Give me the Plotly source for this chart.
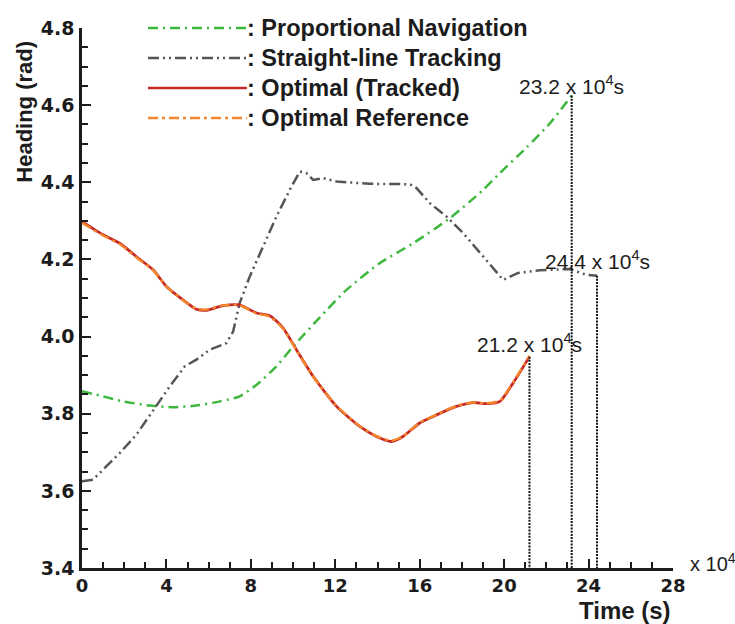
import plotly.graph_objects as go

# ---- data (time in units of 10^4 s, heading in rad) ----
pn_t = [0, 1.0, 1.94, 3.21, 4.31, 5.42, 6.53, 7.47, 8.27, 9.21, 10.0, 11.27, 12.53, 14.1, 15.69, 17.43, 19.0, 19.8, 21.06, 22.17, 23.2]
pn_h = [3.858, 3.845, 3.832, 3.821, 3.817, 3.821, 3.832, 3.845, 3.875, 3.923, 3.974, 4.05, 4.121, 4.19, 4.242, 4.307, 4.38, 4.424, 4.49, 4.553, 4.625]

sl_t = [0, 0.52, 1.0, 1.79, 2.58, 3.37, 4.16, 4.87, 5.42, 6.05, 6.84, 7.16, 7.47, 7.95, 8.58, 9.21, 9.84, 10.32, 10.63, 10.95, 11.42, 12.06, 13.64, 15.53, 15.85, 16.48, 17.27, 18.06, 19.0, 19.95, 20.66, 21.7, 23.11, 23.9, 24.4]
sl_h = [3.625, 3.629, 3.655, 3.698, 3.746, 3.81, 3.871, 3.923, 3.94, 3.966, 3.983, 4.013, 4.087, 4.156, 4.233, 4.311, 4.38, 4.428, 4.424, 4.406, 4.411, 4.402, 4.396, 4.395, 4.385, 4.346, 4.311, 4.268, 4.208, 4.147, 4.165, 4.172, 4.175, 4.16, 4.158]

opt_t = [0, 1.0, 1.79, 2.58, 3.37, 4.0, 4.79, 5.42, 5.9, 6.68, 7.47, 8.27, 8.9, 9.53, 10.16, 10.95, 12.06, 13.16, 13.95, 14.66, 15.21, 16.0, 16.8, 17.74, 18.53, 19.17, 19.8, 20.43, 21.2]
opt_h = [4.298, 4.264, 4.242, 4.207, 4.173, 4.13, 4.095, 4.071, 4.068, 4.08, 4.082, 4.061, 4.054, 4.022, 3.966, 3.897, 3.819, 3.767, 3.741, 3.728, 3.741, 3.776, 3.797, 3.819, 3.829, 3.826, 3.832, 3.88, 3.948]

ref_t = [0, 1.0, 1.79, 2.58, 3.37, 4.0, 4.79, 5.42, 5.9, 6.68, 7.47, 8.27, 8.9, 9.53, 10.16, 10.95, 12.06, 13.16, 13.95, 14.66, 15.21, 16.0, 16.8, 17.74, 18.53, 19.17, 19.8, 20.43, 21.2]
ref_h = [4.295, 4.262, 4.24, 4.205, 4.172, 4.13, 4.094, 4.072, 4.07, 4.081, 4.081, 4.06, 4.052, 4.02, 3.965, 3.896, 3.82, 3.768, 3.742, 3.73, 3.742, 3.777, 3.798, 3.82, 3.829, 3.827, 3.834, 3.882, 3.95]

end_times = [21.2, 23.2, 24.4]
end_values = [3.948, 4.625, 4.158]
end_labels = ["21.2 x 10<sup>4</sup>s", "23.2 x 10<sup>4</sup>s", "24.4 x 10<sup>4</sup>s"]
label_y = [3.984, 4.652, 4.199]

legend_names = [": Proportional Navigation", ": Straight-line Tracking", ": Optimal (Tracked)", ": Optimal Reference"]

GREEN = "#3db83d"
GRAY = "#555555"
RED = "#c62a26"
ORANGE = "#f5862c"
PN_DASH = "10px,5px,2px,5px"
SL_DASH = "11px,4px,2px,4px,2px,4px"
REF_DASH = "10px,4px,3px,4px"

FONT = "Arial, 'Liberation Sans', sans-serif"
WIDE = "'DejaVu Sans', Arial, sans-serif"
INK = "#1c1c1c"

fig = go.Figure()
fig.add_trace(go.Scatter(x=pn_t, y=pn_h, mode="lines", line=dict(color=GREEN, width=2.5, dash=PN_DASH, shape="spline", smoothing=0.6)))
fig.add_trace(go.Scatter(x=sl_t, y=sl_h, mode="lines", line=dict(color=GRAY, width=2.5, dash=SL_DASH)))
fig.add_trace(go.Scatter(x=opt_t, y=opt_h, mode="lines", line=dict(color=RED, width=2.8, shape="spline", smoothing=0.6)))
fig.add_trace(go.Scatter(x=ref_t, y=ref_h, mode="lines", line=dict(color=ORANGE, width=2.4, dash=REF_DASH, shape="spline", smoothing=0.6)))

for t, v in zip(end_times, end_values):
    fig.add_trace(go.Scatter(x=[t, t], y=[v, 3.4], mode="lines", line=dict(color="#111111", width=2, dash="2px,1.2px")))

for t, ly, txt in zip(end_times, label_y, end_labels):
    fig.add_annotation(x=t, y=ly, text=txt, showarrow=False, xanchor="center", yanchor="middle",
                       font=dict(family=FONT, size=21, color=INK))

# custom legend (line samples + labels)
leg_colors = [GREEN, GRAY, RED, ORANGE]
leg_dashes = [PN_DASH, SL_DASH, "solid", REF_DASH]
leg_y = [1.0, 0.9444, 0.8889, 0.8333]
for c, d, yy, name in zip(leg_colors, leg_dashes, leg_y, legend_names):
    fig.add_shape(type="line", xref="paper", yref="paper", x0=0.1117, x1=0.279, y0=yy, y1=yy,
                  line=dict(color=c, width=2.5, dash=d))
    fig.add_annotation(xref="paper", yref="paper", x=0.2765, y=yy, text="<b>" + name + "</b>", showarrow=False,
                       xanchor="left", yanchor="middle", font=dict(family=FONT, size=23.5, color=INK))

# axis titles
fig.add_annotation(xref="paper", yref="paper", x=-0.0964, y=0.845, text="<b>Heading (rad)</b>", textangle=-90,
                   showarrow=False, xanchor="center", yanchor="middle", font=dict(family=FONT, size=22, color=INK))
fig.add_annotation(xref="paper", yref="paper", x=1.0, y=-0.0778, text="<b>Time (s)</b>",
                   showarrow=False, xanchor="right", yanchor="middle", font=dict(family=FONT, size=24, color=INK))
fig.add_annotation(xref="paper", yref="paper", x=1.0254, y=0.0093, text="x 10<sup>4</sup>",
                   showarrow=False, xanchor="left", yanchor="middle", font=dict(family=FONT, size=20, color=INK))

fig.update_layout(
    width=735, height=624,
    margin=dict(l=82, r=62, t=28, b=56),
    paper_bgcolor="white", plot_bgcolor="white",
    showlegend=False,
    font=dict(family=FONT, color=INK),
)
fig.update_xaxes(range=[0, 28], tickmode="linear", tick0=0, dtick=4, ticks="inside", ticklen=9, tickwidth=2,
                 tickcolor=INK, showline=True, linecolor=INK, linewidth=2.5, showgrid=False, zeroline=False,
                 tickfont=dict(family=WIDE, size=18, color=INK, weight="bold"),
                 minor=dict(ticks="inside", dtick=1, ticklen=6, tickwidth=1.5, tickcolor=INK, showgrid=False))
fig.update_yaxes(range=[3.4, 4.8], tickmode="linear", tick0=3.4, dtick=0.2, tickformat=".1f", ticks="inside", ticklen=9,
                 tickwidth=2, tickcolor=INK, showline=True, linecolor=INK, linewidth=2.5, showgrid=False,
                 zeroline=False, ticklabelstandoff=1,
                 tickfont=dict(family=WIDE, size=19, color=INK, weight="bold"),
                 minor=dict(ticks="inside", dtick=0.05, ticklen=6, tickwidth=1.5, tickcolor=INK, showgrid=False))

fig.write_html("out.html")
